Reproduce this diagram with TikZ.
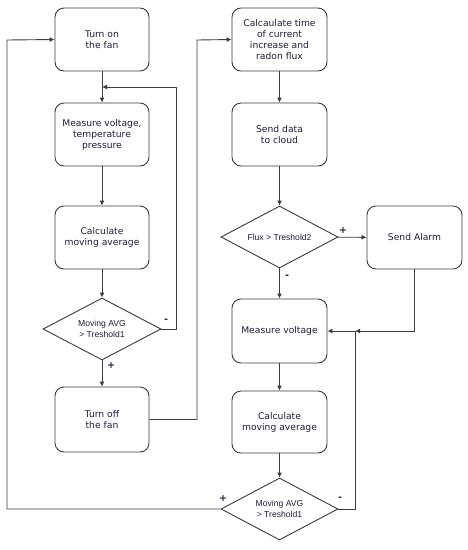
\documentclass[tikz,border=0pt]{standalone}
\usepackage{fontspec}
\setmainfont{DejaVu Sans}
\newfontfamily\dfont{Liberation Sans}
\usetikzlibrary{shapes.geometric,arrows.meta}
\definecolor{txt}{RGB}{28,30,58}
\definecolor{ln}{RGB}{60,60,60}
\begin{document}
\begin{tikzpicture}[x=1pt,y=-1pt,
  box/.style={draw=ln,line width=0.9pt,rounded corners=9pt,minimum width=94pt,minimum height=63pt,
    align=center,text=txt,font=\fontsize{9.2}{11}\selectfont,inner sep=1pt},
  dia/.style={draw=ln,line width=0.9pt,diamond,aspect=2,minimum width=118pt,minimum height=62pt,inner sep=0pt,
    align=center,text=txt,font=\dfont\fontsize{8.6}{11}\selectfont},
  conn/.style={draw=ln,line width=0.9pt,-{Latex[length=5pt,width=5pt]}},
  lbl/.style={text=txt,font=\bfseries\fontsize{9.5}{9.5}\selectfont,inner sep=0pt}]
\useasboundingbox (0,0) rectangle (467,550);
% left column
\node[box] (b1) at (102,39.5) {Turn on\\the fan};
\node[box] (b2) at (102,134.5) {Measure voltage,\\temperature\\pressure};
\node[box] (b3) at (102,237.5) {Calculate\\moving average};
\node[dia] (d1) at (102,329) {Moving AVG\\> Treshold1};
\node[box,minimum height=65pt] (b4) at (102,419.5) {Turn off\\the fan};
% right column
\node[box,minimum width=95pt] (r1) at (279.5,39.5) {Calcaulate time\\of current\\increase and\\radon flux};
\node[box,minimum width=95pt] (r2) at (279.5,134.5) {Send data\\to cloud};
\node[dia,minimum width=117pt] (d2) at (279.5,237) {Flux > Treshold2};
\node[box,minimum width=95pt] (al) at (414.5,237.5) {Send Alarm};
\node[box,minimum width=95pt,minimum height=64pt] (r3) at (279.5,331) {Measure voltage};
\node[box,minimum width=95pt,minimum height=62pt] (r4) at (279.5,422) {Calculate\\moving average};
\node[dia,minimum width=117pt] (d3) at (279.5,509) {Moving AVG\\> Treshold1};
% junctions
\coordinate (j1) at (102,87);
\coordinate (j2) at (355,331);
% connectors left
\draw[conn] (b1) -- (b2);
\draw[conn] (b2) -- (b3);
\draw[conn] (b3) -- (d1);
\draw[conn] (d1) -- (b4);
\draw[conn] (d1.east) -- (176,329) -- (176,87) -- (j1);
\draw[conn] (b4.east) -- (197,419.5) -- (197,40) -- (r1.west);
\draw[conn] (d3.west) -- (7,509) -- (7,40) -- (b1.west);
% connectors right
\draw[conn] (r1) -- (r2);
\draw[conn] (r2) -- (d2);
\draw[conn] (d2) -- (r3);
\draw[conn] (d2) -- (al);
\draw[conn] (al.south) -- (414.5,331) -- (j2);
\draw[conn] (d3.east) -- (355,509) -- (j2) -- (r3.east);
\draw[conn] (r3) -- (r4);
\draw[conn] (r4) -- (d3);
% labels
\node[lbl] (l1) at (166,321) {-};
\node[lbl] (l2) at (111,366) {+};
\node[lbl] (l3) at (343,231) {+};
\node[lbl] (l4) at (287,277) {-};
\node[lbl] (l5) at (223,499) {+};
\node[lbl] (l6) at (340,499) {-};
\end{tikzpicture}
\end{document}
